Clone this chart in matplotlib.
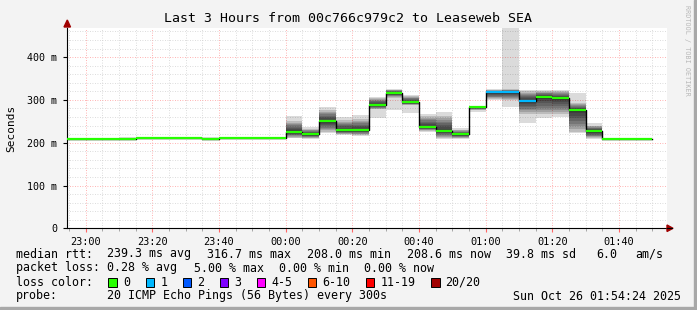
import matplotlib
matplotlib.use('Agg')
import matplotlib.pyplot as plt
import matplotlib.patches as mpatches
import numpy as np

plt.rcParams['font.family'] = 'DejaVu Sans Mono'

# minutes relative to 23:00, start of each 5 minute step
step_start = [-10, -5, 0, 5, 10, 15, 20, 25, 30, 35, 40, 45, 50, 55,
              60, 65, 70, 75, 80, 85, 90, 95, 100, 105, 110, 115,
              120, 125, 130, 135, 140, 145, 150, 155, 160, 165]
median_ms = [208.5, 208.5, 208.5, 208.5, 208.5, 210.5, 210.5, 210.5, 210.5, 208.0, 210.0, 210.0, 210.0, 210.0,
             225.7, 219.6, 251.0, 229.7, 229.7, 289.0, 317.0, 295.0, 237.0, 228.0, 219.6, 284.0,
             317.6, 318.0, 298.0, 307.6, 304.0, 276.0, 228.0, 209.0, 209.0, 208.6]
# full smoke range (lightest grey)
smoke_lo = [208.0, 208.0, 208.0, 208.0, 208.0, 210.0, 210.0, 210.0, 210.0, 207.5, 209.5, 209.5, 209.5, 209.5,
            211.0, 208.0, 222.0, 218.0, 216.0, 257.0, 276.0, 269.0, 226.0, 209.0, 208.0, 271.0,
            300.0, 284.0, 247.0, 257.0, 259.0, 223.0, 208.0, 208.5, 208.5, 208.0]
smoke_hi = [209.0, 209.0, 209.0, 209.0, 213.0, 211.0, 211.0, 211.0, 211.0, 213.0, 210.5, 210.5, 210.5, 210.5,
            262.0, 237.0, 283.0, 259.0, 265.0, 307.0, 325.0, 311.0, 267.0, 271.0, 234.0, 286.0,
            325.0, 500.0, 323.0, 323.0, 323.0, 315.0, 245.0, 209.5, 209.5, 209.2]
# denser core of the smoke
core_lo = [208.0, 208.0, 208.0, 208.0, 208.0, 210.0, 210.0, 210.0, 210.0, 207.5, 209.5, 209.5, 209.5, 209.5,
           212.0, 210.0, 226.0, 220.0, 218.0, 278.0, 305.0, 288.0, 228.0, 212.0, 210.0, 276.0,
           302.0, 300.0, 268.0, 266.0, 268.0, 226.0, 210.0, 208.5, 208.5, 208.0]
core_hi = [209.0, 209.0, 209.0, 209.0, 209.0, 211.0, 211.0, 211.0, 211.0, 208.5, 210.5, 210.5, 210.5, 210.5,
           250.0, 232.0, 276.0, 252.0, 255.0, 304.0, 324.0, 309.0, 262.0, 262.0, 230.0, 286.0,
           323.0, 325.0, 320.0, 320.0, 320.0, 292.0, 240.0, 209.5, 209.5, 209.2]
loss_count = [0] * 26 + [1, 1, 1] + [0] * 7

x_ticks = [0, 20, 40, 60, 80, 100, 120, 140, 160]
x_labels = ['23:00', '23:20', '23:40', '00:00', '00:20', '00:40', '01:00', '01:20', '01:40']
y_ticks = [0, 0.1, 0.2, 0.3, 0.4]
y_labels = ['0', '100 m', '200 m', '300 m', '400 m']

loss_labels = ['0', '1', '2', '3', '4-5', '6-10', '11-19', '20/20']
loss_colors = ['#26ff00', '#00b8ff', '#0059ff', '#7e00ff', '#ff00ff', '#ff5500', '#ff0000', '#a10000']

W, H = 697, 310
fig = plt.figure(figsize=(W / 100, H / 100), dpi=100, facecolor='#f3f3f3')
ax = fig.add_axes([67 / W, 1 - 228.3 / H, 600 / W, 200.3 / H])
ax.set_facecolor('white')
ax.set_xlim(-5.6, 174.4)
ax.set_ylim(0, 0.468)

# grid
for m in np.arange(-5, 175, 5):
    major = m % 20 == 0
    ax.axvline(m, color='#ff9999' if major else '#d0d0d0', lw=0.6, ls=(0, (1, 2)), zorder=0)
for v in np.arange(0.02, 0.468, 0.02):
    major = abs(v * 10 - round(v * 10)) < 1e-6
    ax.axhline(v, color='#ff9999' if major else '#d0d0d0', lw=0.6, ls=(0, (1, 2)), zorder=0)

# smoke: light outer band, then a denser core that darkens toward the median
n_layers = 8
for t, med, lo, hi, clo, chi in zip(step_start, median_ms, smoke_lo, smoke_hi, core_lo, core_hi):
    ax.fill_between([t, t + 5], lo / 1000, hi / 1000, color='black', alpha=0.14, lw=0, zorder=1)
    for k in range(n_layers):
        f = 1 - k / n_layers
        a = (med - (med - clo) * f) / 1000
        b = (med + (chi - med) * f) / 1000
        ax.fill_between([t, t + 5], a, b, color='black', alpha=0.14, lw=0, zorder=1)

# median line
edges = step_start + [step_start[-1] + 5]
vals = [m / 1000 for m in median_ms] + [median_ms[-1] / 1000]
ax.step(edges, vals, where='post', color='black', lw=1.0, zorder=2)
ax.hlines([m / 1000 for m in median_ms], step_start, [t + 5 for t in step_start],
          colors=[loss_colors[c] for c in loss_count], lw=1.6, zorder=3)

for s in ['top', 'right']:
    ax.spines[s].set_visible(False)
ax.spines['left'].set_color('black')
ax.spines['bottom'].set_color('black')
ax.spines['left'].set_linewidth(0.8)
ax.spines['bottom'].set_linewidth(0.8)

ax.set_xticks(x_ticks)
ax.set_xticklabels(x_labels, fontsize=7.4)
ax.set_xticks(np.arange(-5, 175, 5), minor=True)
ax.set_yticks(y_ticks)
ax.set_yticklabels(y_labels, fontsize=7.2)
ax.tick_params(axis='x', which='major', length=3, color='#ff6666', pad=3)
ax.tick_params(axis='x', which='minor', length=2, color='#999999')
ax.tick_params(axis='y', which='major', length=3, color='black', pad=4)
ax.set_ylabel('Seconds', fontsize=8, labelpad=8)

# arrows on axes
fig.patches.append(mpatches.Polygon([[64 / W, 1 - 27 / H], [70.5 / W, 1 - 27 / H], [67.3 / W, 1 - 20 / H]],
                                    closed=True, transform=fig.transFigure, color='#a00000'))
fig.add_artist(plt.Line2D([667 / W, 672 / W], [1 - 228.3 / H, 1 - 228.3 / H], color='black', lw=0.8))
fig.patches.append(mpatches.Polygon([[667 / W, 1 - 225 / H], [667 / W, 1 - 231.5 / H], [673 / W, 1 - 228.3 / H]],
                                    closed=True, transform=fig.transFigure, color='#a00000'))

def ftext(x, y, s, **kw):
    fig.text(x / W, 1 - y / H, s, va='center', **kw)

ftext(348, 19, 'Last 3 Hours from 00c766c979c2 to Leaseweb SEA', ha='center', fontsize=9.5)
ftext(687, 50, 'RRDTOOL / TOBI OETIKER', ha='center', rotation=270, fontsize=4.9, color='#b8b8b8')

fs = 8.4
ftext(16, 254, 'median rtt:', fontsize=fs)
for x, s in [(107, '239.3 ms avg'), (207, '316.7 ms max'), (307, '208.0 ms min'),
             (407, '208.6 ms now'), (506.5, '39.8 ms sd'), (596.5, '6.0'), (635, 'am/s')]:
    ftext(x, 254, s, fontsize=fs)
ftext(16, 268, 'packet loss:', fontsize=fs)
for x, s in [(107, '0.28 % avg'), (194, '5.00 % max'), (279, '0.00 % min'), (364, '0.00 % now')]:
    ftext(x, 268, s, fontsize=fs)
ftext(16, 282, 'loss color:', fontsize=fs)
box_x = [108.3, 145.7, 182.7, 219.7, 256.7, 307.7, 365.7, 431.0]
for bx, lab, col in zip(box_x, loss_labels, loss_colors):
    fig.patches.append(mpatches.Rectangle((bx / W, 1 - 286.5 / H), 8.5 / W, 9 / H, transform=fig.transFigure,
                                          facecolor=col, edgecolor='black', lw=0.7))
    ftext(bx + 14.5, 282, lab, fontsize=fs)
ftext(16, 296, 'probe:', fontsize=fs)
ftext(107, 296, '20 ICMP Echo Pings (56 Bytes) every 300s', fontsize=fs)
ftext(681, 296, 'Sun Oct 26 01:54:24 2025', ha='right', fontsize=fs)

# frame
fig.patches.append(mpatches.Rectangle((0, 0), 1, 3 / H, transform=fig.transFigure, color='#a8a8a8'))
fig.patches.append(mpatches.Rectangle((1 - 3 / W, 0), 3 / W, 1, transform=fig.transFigure, color='#a8a8a8'))

fig.savefig('out.png', dpi=100, facecolor=fig.get_facecolor())
